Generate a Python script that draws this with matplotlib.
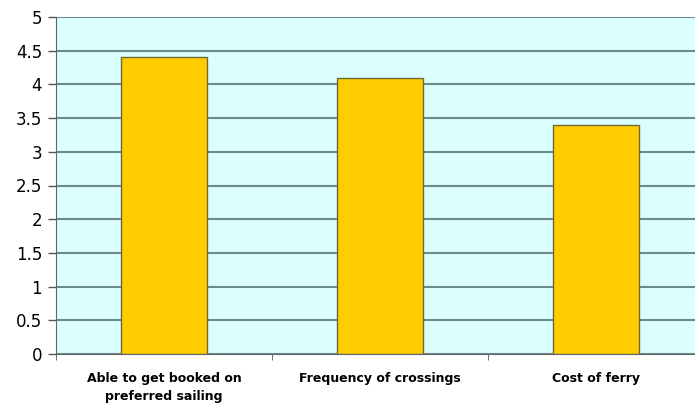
import numpy as np
from matplotlib import pyplot as plt

categories = ['Able to get booked on\npreferred sailing', 'Frequency of crossings', 'Cost of ferry']
values = [4.4, 4.1, 3.4]
yticks = [0, 0.5, 1, 1.5, 2, 2.5, 3, 3.5, 4, 4.5, 5]

fig = plt.figure(figsize=(6.95, 4.05), dpi=100)
# plot area runs a little past the right edge of the picture
ax = fig.add_axes([56 / 695, 1 - 354 / 405, 648 / 695, 337 / 405])
ax.set_facecolor('#dbffff')

x = np.arange(len(categories))
ax.bar(x, values, width=0.4, color='#ffcc00', edgecolor='#6b6b3a', linewidth=1, zorder=3)

ax.set_xlim(-0.5, len(categories) - 0.5)
ax.set_ylim(0, 5)
ax.set_yticks(yticks)
ax.set_yticklabels(['0', '0.5', '1', '1.5', '2', '2.5', '3', '3.5', '4', '4.5', '5'],
                   fontsize=12, family='DejaVu Sans')
ax.yaxis.grid(True, color='#6f8a8a', linewidth=1.5, zorder=1)
ax.tick_params(axis='y', length=6, width=1, color='#555555', pad=4)

ax.set_xticks(x)
ax.set_xticklabels(categories, fontsize=9, fontweight='bold', linespacing=1.5)
ax.set_xticks(np.arange(len(categories) + 1) - 0.5, minor=True)
ax.tick_params(axis='x', which='major', length=0, pad=13)
ax.tick_params(axis='x', which='minor', length=4, color='#555555')

for s in ['top', 'right']:
    ax.spines[s].set_visible(False)
for s in ['left', 'bottom']:
    ax.spines[s].set_color('#666666')

fig.savefig('out.png', dpi=100)
